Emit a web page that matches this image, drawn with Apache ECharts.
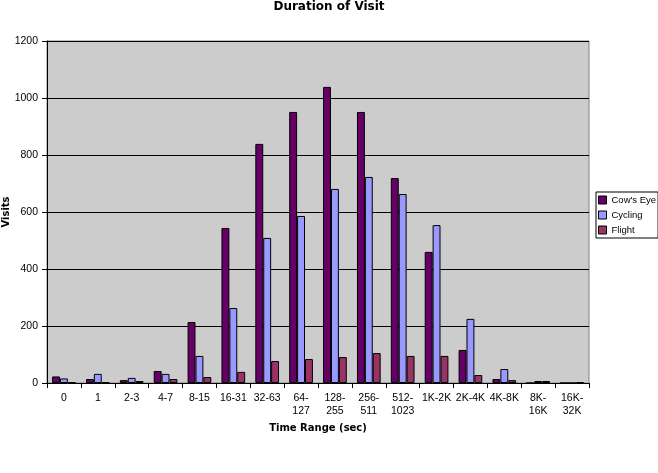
<!DOCTYPE html>
<html>
<head>
<meta charset="utf-8">
<script src="https://cdn.jsdelivr.net/npm/echarts@6/dist/echarts.min.js"></script>
<style>
html,body{margin:0;padding:0;background:#fff;}
#chart{width:658px;height:473px;}
</style>
</head>
<body>
<div id="chart"></div>
<script>
const categories = ['0','1','2-3','4-7','8-15','16-31','32-63','64-\n127','128-\n255','256-\n511','512-\n1023','1K-2K','2K-4K','4K-8K','8K-\n16K','16K-\n32K'];
const cowsEye = [23,14,10,42,214,544,839,951,1039,951,719,460,116,14,0,0];
const cycling = [16,32,18,32,95,263,509,586,681,723,663,554,225,49,7,0];
const flight  = [3,3,7,14,21,39,77,84,91,105,95,95,28,10,7,3];
const yTicks = [0,200,400,600,800,1000,1200];

const font = 'Liberation Sans';
const bold = 'DejaVu Sans';
const chart = echarts.init(document.getElementById('chart'), null, {renderer:'canvas'});
const barStyle = c => ({color:c, borderColor:'#000', borderWidth:1});
chart.setOption({
  animation:false,
  backgroundColor:'#fff',
  title:{text:'Duration of Visit', left:324, top:-4, textAlign:'center',
    textStyle:{fontFamily:bold, fontSize:12, fontWeight:'bold', color:'#000'}},
  legend:{orient:'vertical', left:596, top:192, padding:[3,2,3,2],
    borderColor:'#000', borderWidth:1, backgroundColor:'#fff',
    itemWidth:8, itemHeight:8, itemGap:5, icon:'rect',
    itemStyle:{borderColor:'#000', borderWidth:1},
    textStyle:{fontFamily:font, fontSize:9.5, color:'#000'},
    data:["Cow's Eye",'Cycling','Flight']},
  grid:{left:47, right:69, top:41, bottom:90, containLabel:false, outerBoundsMode:'none',
    show:true, backgroundColor:'#cccccc', borderColor:'#808080', borderWidth:1},
  xAxis:{type:'category', data:categories,
    name:'Time Range (sec)', nameLocation:'middle', nameGap:40, nameMoveOverlap:false,
    nameTextStyle:{fontFamily:bold, fontSize:10, fontWeight:'bold', color:'#000'},
    axisLine:{lineStyle:{color:'#000', width:1}},
    axisTick:{show:true, length:5, lineStyle:{color:'#000'}, alignWithLabel:false},
    axisLabel:{fontFamily:font, fontSize:10.5, color:'#000', margin:9, lineHeight:13, interval:0}},
  yAxis:{type:'value', min:0, max:1200, interval:200,
    name:'Visits', nameLocation:'middle', nameGap:36, nameRotate:90, nameMoveOverlap:false,
    nameTextStyle:{fontFamily:bold, fontSize:10, fontWeight:'bold', color:'#000'},
    axisLine:{show:true, lineStyle:{color:'#000', width:1}},
    axisTick:{show:true, length:5, lineStyle:{color:'#000'}},
    axisLabel:{fontFamily:font, fontSize:10.5, color:'#000', margin:9,
      formatter: v => yTicks.includes(v) ? String(v) : ''},
    splitLine:{show:true, lineStyle:{color:'#000', width:1}}},
  series:[
    {name:"Cow's Eye", type:'bar', data:cowsEye, itemStyle:barStyle('#660066'), barGap:'0%', barCategoryGap:'30%'},
    {name:'Cycling', type:'bar', data:cycling, itemStyle:barStyle('#9999ff'), barGap:'0%', barCategoryGap:'30%'},
    {name:'Flight', type:'bar', data:flight, itemStyle:barStyle('#993366'), barGap:'0%', barCategoryGap:'30%'}
  ]
});
</script>
</body>
</html>
